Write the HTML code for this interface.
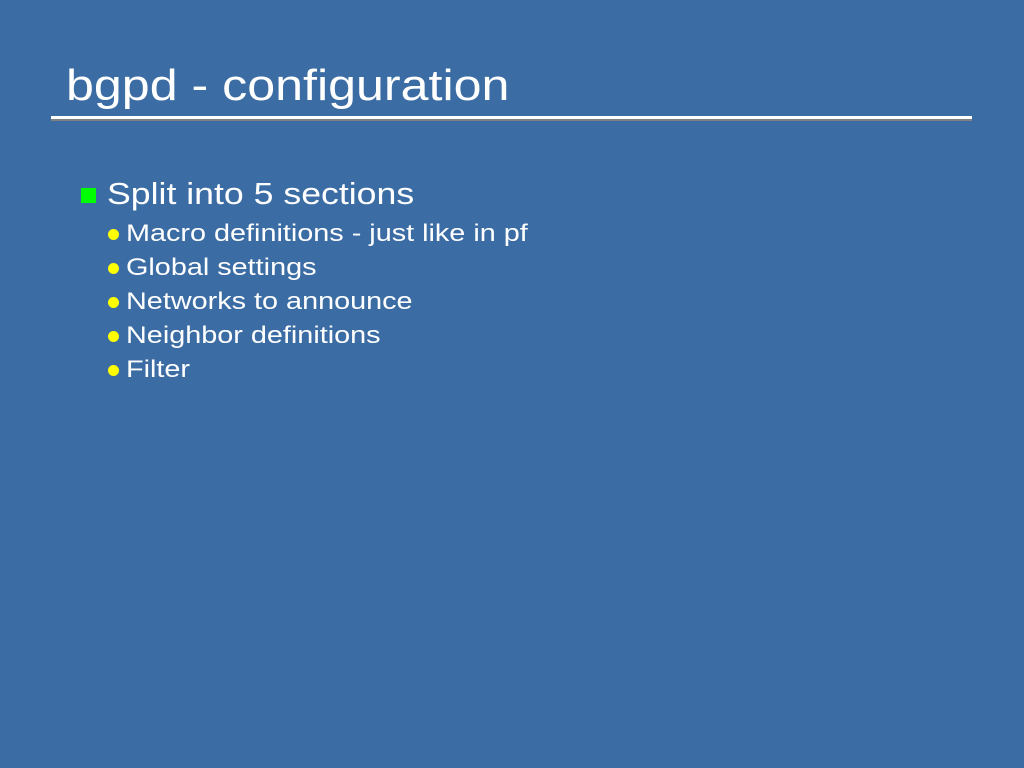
<!DOCTYPE html>
<html><head><style>
html,body{margin:0;padding:0}
body{width:1024px;height:768px;background:#3b6da4;position:relative;overflow:hidden;font-family:"Liberation Sans",sans-serif;color:#fff}
.t{position:absolute;white-space:nowrap;line-height:1;transform-origin:0 0}
.s{transform:scaleX(1.2)}
.b{position:absolute;left:108px;width:11px;height:11px;border-radius:50%;background:#ffff00}
</style></head><body>
<div class="t" style="left:66px;top:64px;font-size:44px;transform:scaleX(1.14)">bgpd - configuration</div>
<div style="position:absolute;left:51px;top:116px;width:921px;height:3px;background:#fff"></div>
<div style="position:absolute;left:51px;top:119px;width:921px;height:2px;background:#808080"></div>
<div style="position:absolute;left:81px;top:188px;width:15px;height:15px;background:#00ff00"></div>
<div class="t" style="left:107px;top:178px;font-size:31px;transform:scaleX(1.15)">Split into 5 sections</div>
<div class="b" style="top:229px"></div>
<div class="t s" style="left:126px;top:222px;font-size:24px">Macro definitions - just like in pf</div>
<div class="b" style="top:263px"></div>
<div class="t s" style="left:126px;top:256px;font-size:24px">Global settings</div>
<div class="b" style="top:297px"></div>
<div class="t s" style="left:126px;top:290px;font-size:24px">Networks to announce</div>
<div class="b" style="top:331px"></div>
<div class="t s" style="left:126px;top:324px;font-size:24px">Neighbor definitions</div>
<div class="b" style="top:365px"></div>
<div class="t s" style="left:126px;top:358px;font-size:24px">Filter</div>
</body></html>
